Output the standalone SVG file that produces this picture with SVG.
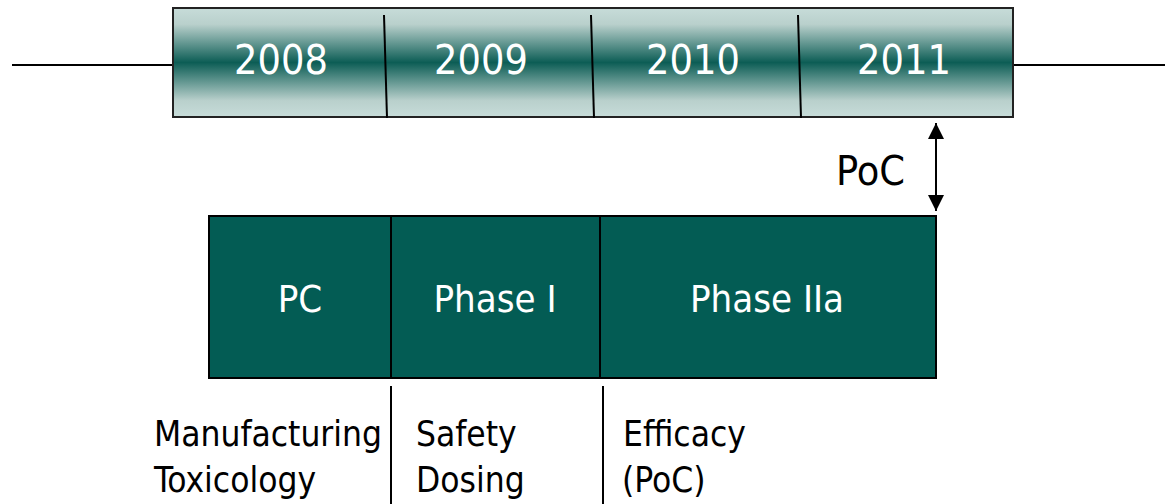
<svg xmlns="http://www.w3.org/2000/svg" width="1165" height="504" viewBox="0 0 1165 504">
<defs>
<linearGradient id="bar" x1="0" y1="0" x2="0" y2="1">
<stop offset="0" stop-color="#c7dcd9"/>
<stop offset="0.15" stop-color="#b9d0cc"/>
<stop offset="0.5" stop-color="#0c5d55"/>
<stop offset="0.85" stop-color="#b9d0cc"/>
<stop offset="1" stop-color="#c7dcd9"/>
</linearGradient>
<marker id="ah" viewBox="0 0 10 10" refX="10" refY="5" markerWidth="16" markerHeight="16" markerUnits="userSpaceOnUse" orient="auto-start-reverse">
<path d="M0,0 L10,5 L0,10 z" fill="#000"/>
</marker>
<style>
.t{font-family:"DejaVu Sans Condensed","DejaVu Sans",sans-serif;font-stretch:condensed;}
.yr{font-size:41px;fill:#fff;text-anchor:middle;}
.ph{font-size:38px;fill:#fff;text-anchor:middle;}
.lb{font-size:35px;fill:#000;}
.ln{stroke:#000;stroke-width:2;fill:none;}
</style>
</defs>
<g id="connectors">
<line class="ln" x1="12" y1="65" x2="173" y2="65"/>
<line class="ln" x1="1013" y1="65" x2="1165" y2="65"/>
<line class="ln" x1="936" y1="123" x2="936" y2="211" marker-start="url(#ah)" marker-end="url(#ah)"/>
<line class="ln" x1="391" y1="386" x2="391" y2="504"/>
<line class="ln" x1="603" y1="386" x2="603" y2="504"/>
</g>
<g id="timeline">
<rect x="173" y="8" width="840" height="109" fill="url(#bar)" stroke="#222" stroke-width="2"/>
<line class="ln" x1="384" y1="15" x2="387" y2="118"/>
<line class="ln" x1="591" y1="15" x2="594" y2="118"/>
<line class="ln" x1="798" y1="15" x2="801" y2="118"/>
<text class="t yr" x="281" y="74">2008</text>
<text class="t yr" x="481" y="74">2009</text>
<text class="t yr" x="693" y="74">2010</text>
<text class="t yr" x="904" y="74">2011</text>
</g>
<g id="poc">
<text class="t" x="836" y="185" font-size="41" fill="#000">PoC</text>
</g>
<g id="phases">
<rect x="209" y="216" width="727" height="162" fill="#035c54" stroke="#000" stroke-width="2"/>
<line class="ln" x1="391" y1="216" x2="391" y2="378"/>
<line class="ln" x1="600" y1="216" x2="600" y2="378"/>
<text class="t ph" x="300" y="312">PC</text>
<text class="t ph" x="495" y="312">Phase I</text>
<text class="t ph" x="767" y="312">Phase IIa</text>
</g>
<g id="labels">
<text class="t lb" x="154" y="446">Manufacturing</text>
<text class="t lb" x="154" y="492">Toxicology</text>
<text class="t lb" x="416" y="446">Safety</text>
<text class="t lb" x="416" y="492">Dosing</text>
<text class="t lb" x="623" y="446">Efficacy</text>
<text class="t lb" x="622" y="492">(PoC)</text>
</g>
</svg>
